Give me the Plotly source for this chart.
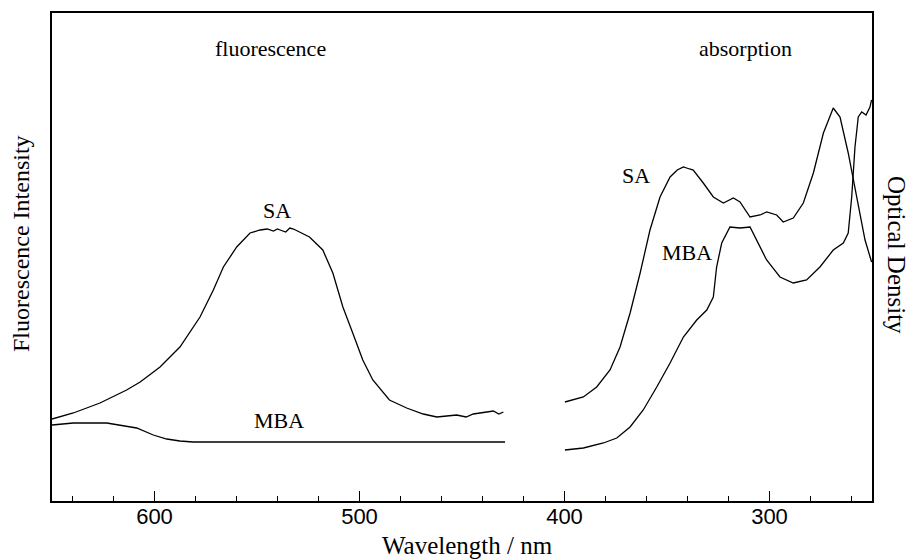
import plotly.graph_objects as go

# ---- data (arbitrary intensity units) ----
fl_sa_wl = [650, 639.6, 626.6, 613.6, 607, 597.3, 587.6, 577.8, 571.3, 566.4, 559.9, 553.4,
            548.5, 545, 542, 540, 538.7, 536, 534, 532.2, 524.4, 517.9, 513, 508.1, 503.3,
            498.4, 493.5, 485.4, 477, 468.9, 462.3, 452.6, 448, 444.5, 434.7, 432, 429.8]
fl_sa_y = [82, 88, 98, 111, 119, 134, 154, 184, 211, 234, 254, 268,
           271, 272, 270, 272, 271, 269, 273, 272, 264, 251, 228, 194, 168,
           141, 121, 101, 93, 87, 84, 86, 84, 87, 90, 87, 89]

fl_mba_wl = [650, 639.6, 623.3, 616.8, 608.7, 600.6, 594, 587.6, 581.1, 429]
fl_mba_y = [76, 78, 78, 76, 73, 66, 62, 60, 59, 59]

ab_sa_wl = [399.8, 390.8, 384.3, 377.8, 372.9, 368, 363.1, 358.3, 353.4, 348.5, 345, 342,
            339, 337.2, 332.3, 327.4, 322.5, 317.6, 314.4, 309.5, 304.6, 301.4, 296.5,
            293.3, 288.4, 283.5, 278.6, 273.7, 268.9, 265.6, 261.6, 257.5, 253.4, 250.2]
ab_sa_y = [99, 104, 114, 131, 154, 188, 228, 271, 304, 324, 331, 334,
           332, 331, 318, 304, 298, 303, 299, 284, 286, 289, 286,
           279, 283, 298, 328, 368, 393, 384, 348, 304, 261, 239]

ab_mba_wl = [399.8, 390.8, 381, 374.5, 368, 361.6, 355, 348.5, 342, 335.5, 330.6, 327.4,
             325.8, 323.3, 319.3, 314.4, 309.5, 306.3, 301.4, 294.9, 288.4, 281.9, 275.4,
             268.9, 264, 261.6, 259.9, 258.3, 256.7, 255, 252.9, 251, 250.2]
ab_mba_y = [51, 53, 58, 63, 74, 91, 114, 138, 164, 181, 191, 204,
            234, 258, 274, 273, 274, 261, 241, 224, 218, 221, 234,
            251, 258, 268, 304, 354, 384, 389, 386, 394, 401]

x_ticks = [600, 500, 400, 300]

SERIF = "Liberation Serif, Times New Roman, serif"
SANS = "Liberation Sans, Arial, sans-serif"

fig = go.Figure()
for xs, ys in [(fl_sa_wl, fl_sa_y), (fl_mba_wl, fl_mba_y), (ab_sa_wl, ab_sa_y), (ab_mba_wl, ab_mba_y)]:
    fig.add_trace(go.Scatter(x=xs, y=ys, mode="lines",
                             line=dict(color="black", width=1.3), showlegend=False))

fig.update_layout(
    width=911, height=559,
    margin=dict(l=52, r=39, t=13, b=58),
    plot_bgcolor="white", paper_bgcolor="white",
    xaxis=dict(range=[650, 250], showgrid=False, zeroline=False,
               showline=True, linecolor="black", linewidth=1.5, mirror=True,
               tickmode="array", tickvals=x_ticks, ticktext=[str(v) for v in x_ticks],
               ticks="inside", ticklen=10, tickwidth=1.2, tickcolor="black",
               ticklabelstandoff=-5,
               minor=dict(tickmode="linear", tick0=0, dtick=20, ticks="inside", ticklen=5,
                          tickwidth=1, tickcolor="black", showgrid=False),
               tickfont=dict(family=SANS, size=22, color="black")),
    yaxis=dict(range=[0, 488], showgrid=False, zeroline=False, showticklabels=False,
               showline=True, linecolor="black", linewidth=1.5, mirror=True, ticks=""),
)

def ann(text, x, y, size, xref="paper", yref="paper", angle=0):
    fig.add_annotation(text=text, x=x, y=y, xref=xref, yref=yref, showarrow=False,
                       xanchor="center", yanchor="middle", textangle=angle,
                       font=dict(family=SERIF, size=size, color="black"))

def px(xp):
    return (xp - 52) / 820

def py(yp):
    return (501 - yp) / 488

ann("Wavelength / nm", px(467), py(545), 25)
ann("Fluorescence Intensity", px(21), py(244), 24, angle=-90)
ann("Optical Density", px(897), py(255), 25, angle=90)
ann("fluorescence", px(270), py(49), 22)
ann("absorption", px(745), py(48), 22)
ann("SA", px(277), py(211), 22)
ann("MBA", px(279), py(420), 22)
ann("SA", px(636), py(176), 22)
ann("MBA", px(687), py(252), 22)

fig.write_html("out.html")
